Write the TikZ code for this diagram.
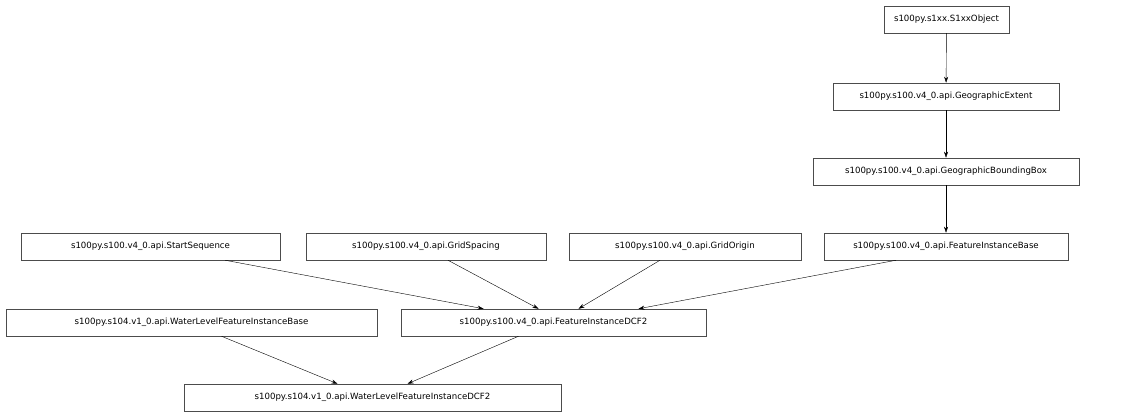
\documentclass[tikz,border=0pt]{standalone}
\usepackage{fontspec}
\setmainfont{DejaVu Sans}
\usetikzlibrary{arrows.meta}
\begin{document}
\begin{tikzpicture}[x=1pt, y=-1pt,
  cls/.style={draw=black!70, line width=0.5pt, minimum height=27pt, inner sep=0pt, font=\fontsize{8.6}{10}\selectfont},
  inh/.style={-{Stealth[length=6pt,width=4pt]}, line width=0.4pt}]
\useasboundingbox (0,0) rectangle (1142,417);
\node[cls, minimum width=125pt] (s1xx) at (946.5,19.5) {s100py.s1xx.S1xxObject};
\node[cls, minimum width=226pt] (gext) at (946,96.5) {s100py.s100.v4\_0.api.GeographicExtent};
\node[cls, minimum width=266pt] (gbox) at (946,171.5) {s100py.s100.v4\_0.api.GeographicBoundingBox};
\node[cls, minimum width=259pt] (sseq) at (150.5,246.5) {s100py.s100.v4\_0.api.StartSequence};
\node[cls, minimum width=240pt] (gspc) at (426,246.5) {s100py.s100.v4\_0.api.GridSpacing};
\node[cls, minimum width=232pt] (gorg) at (685,246.5) {s100py.s100.v4\_0.api.GridOrigin};
\node[cls, minimum width=244pt] (fib) at (946,246.5) {s100py.s100.v4\_0.api.FeatureInstanceBase};
\node[cls, minimum width=371pt] (wlfib) at (191.5,322.5) {s100py.s104.v1\_0.api.WaterLevelFeatureInstanceBase};
\node[cls, minimum width=305pt] (fdcf) at (553.5,322.5) {s100py.s100.v4\_0.api.FeatureInstanceDCF2};
\node[cls, minimum width=377pt] (wldcf) at (372.5,397.5) {s100py.s104.v1\_0.api.WaterLevelFeatureInstanceDCF2};
\draw[inh] (s1xx) -- (gext);
\draw[inh] (gext) -- (gbox);
\draw[inh] (gbox) -- (fib);
\draw[inh] (sseq.south east) ++(-55,0) -- ([xshift=-70pt]fdcf.north);
\draw[inh] (gspc.south) ++(22,0) -- ([xshift=-15pt]fdcf.north);
\draw[inh] (gorg.south) ++(-25,0) -- ([xshift=25pt]fdcf.north);
\draw[inh] (fib.south) ++(-50,0) -- ([xshift=85pt]fdcf.north);
\draw[inh] (wlfib.south) ++(30,0) -- ([xshift=-35pt]wldcf.north);
\draw[inh] (fdcf.south) ++(-35,0) -- ([xshift=35pt]wldcf.north);
\end{tikzpicture}
\end{document}
